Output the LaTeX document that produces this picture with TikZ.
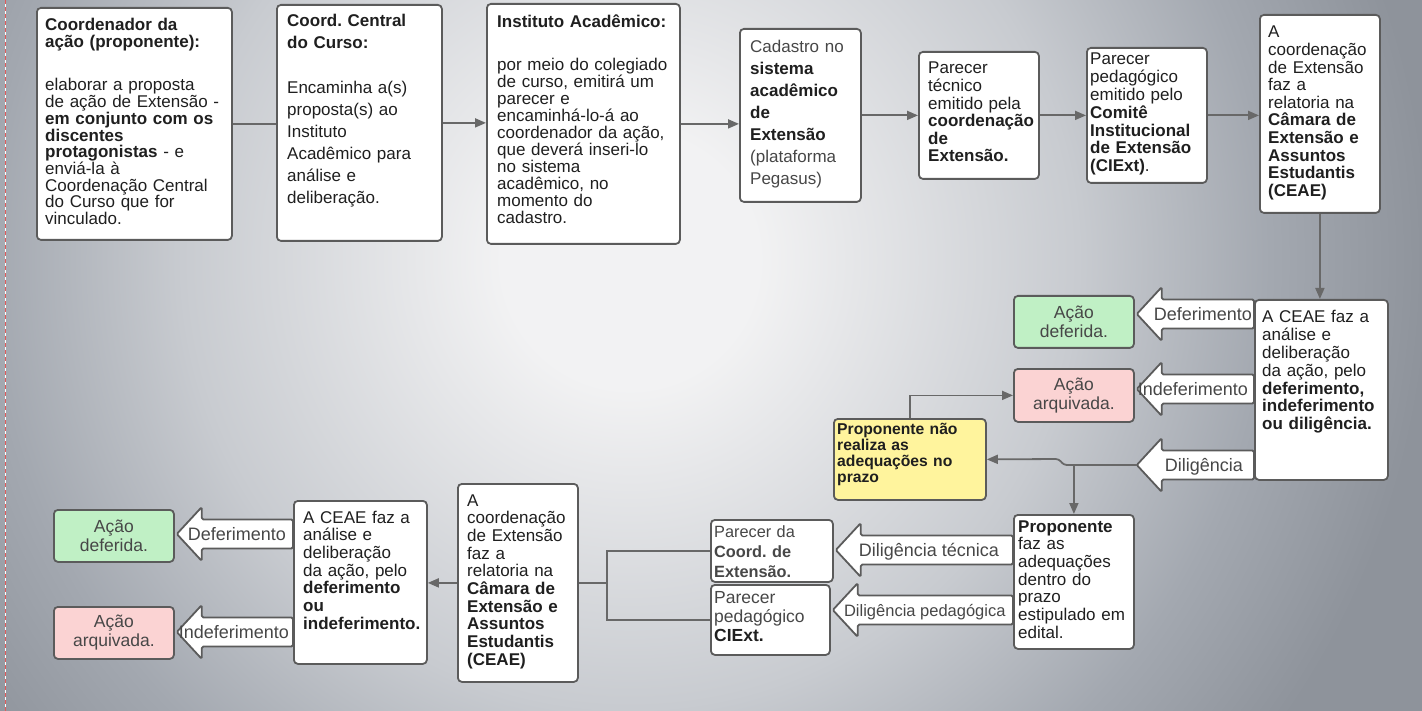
\documentclass[tikz,border=0pt]{standalone}
\usepackage{fontspec}
\setmainfont{Liberation Sans}
\usetikzlibrary{arrows.meta,calc}
\frenchspacing

\definecolor{bgmid}{HTML}{F2F2F3}
\definecolor{bgsoft}{HTML}{C8CBD0}
\definecolor{bgedge}{HTML}{A3A8B0}
\definecolor{bgfar}{HTML}{8E939B}
\definecolor{cardline}{HTML}{5B5B5B}
\definecolor{wire}{HTML}{686868}
\definecolor{ink}{HTML}{1F1F1F}
\definecolor{softink}{HTML}{474747}
\definecolor{okgreen}{HTML}{C0F0C5}
\definecolor{nopink}{HTML}{FBD3D3}
\definecolor{waityellow}{HTML}{FFF49D}
\definecolor{cutred}{HTML}{E05A5A}

\newcommand{\fsz}[2]{\fontsize{#1}{#2}\selectfont}

\pgfdeclareradialshading{backdrop}{\pgfpoint{0bp}{0bp}}{color(0bp)=(bgmid); color(4bp)=(bgmid); color(14bp)=(bgsoft); color(20bp)=(bgedge); color(25bp)=(bgfar); color(50bp)=(bgfar)}

\tikzset{
  card/.style={draw=cardline, fill=white, line width=1.8pt, rounded corners=4pt, anchor=north west, inner sep=0pt},
  words/.style={anchor=base west, text width=300pt, align=left, inner sep=0pt, text=ink},
  outcome/.style={draw=cardline, line width=1.8pt, rounded corners=4pt, anchor=north west, inner sep=0pt, align=center, text=softink, font=\fsz{17.5}{19}},
  flow/.style={draw=wire, line width=1.8pt, -{Triangle[length=11pt,width=9pt]}},
  link/.style={draw=wire, line width=1.8pt},
  fat/.style={draw=cardline, fill=white, line width=1.8pt, line join=round, rounded corners=1.5pt},
  fatlabel/.style={inner sep=0pt, text=softink, font=\fsz{18}{18}, text height=12.5pt, text depth=0pt}
}

\newcommand{\fatarrow}[6]{%
  \coordinate (#1-s) at (#2.west |- 0,#4);
  \coordinate (#1-t) at ($(#3.east |- 0,#4)+(2,0)$);
  \draw[fat] (#1-t) -- ++(25,-27) -- ++(0,12.5) -- ($(#1-s)+(0,-14.5)$)
    -- ++(0,29) -- ($(#1-t)+(25,14.5)$) -- ++(0,12.5) -- cycle;
  \node[fatlabel] (#1-l) at ($(#1-t)+(#5,0)$) {#6};}

\begin{document}
\begin{tikzpicture}[x=1pt, y=-1pt]
  \useasboundingbox (0,0) rectangle (1422,711);
  \begin{scope}
    \clip (0,0) rectangle (1422,711);
    \shade[shading=backdrop] (-170,-540) rectangle (1430,1060);
  \end{scope}
  \draw[white, line width=1.6pt] (5.5,0) -- (5.5,711);
  \draw[cutred, line width=1.6pt, dash pattern=on 4pt off 3pt] (5.5,0) -- (5.5,711);

  \node[card, minimum width=195pt, minimum height=232pt] (acao) at (36,7) {};
  \node[words, font=\fsz{17}{16.7}] (acao-t) at ([shift={(9,24)}]acao.north west)
    {\textbf{Coordenador da}\\ \textbf{ação (proponente):}\\[26.6pt]
     elaborar a proposta\\ de ação de Extensão -\\ \textbf{em conjunto com os}\\
     \textbf{discentes}\\ \textbf{protagonistas} - e\\ enviá-la à\\
     Coordenação Central\\ do Curso que for\\ vinculado.};

  \node[card, minimum width=165pt, minimum height=236pt] (central) at (276,4) {};
  \node[words, font=\fsz{17}{22}] (central-t) at ([shift={(11,22.7)}]central.north west)
    {\textbf{Coord. Central}\\ \textbf{do Curso:}\\[23.3pt]
     Encaminha a(s)\\ proposta(s) ao\\ Instituto\\ Acadêmico para\\ análise e\\ deliberação.};

  \node[card, minimum width=193pt, minimum height=240pt] (instituto) at (486,3) {};
  \node[words, font=\fsz{17}{16.9}] (instituto-t) at ([shift={(11,25)}]instituto.north west)
    {\textbf{Instituto Acadêmico:}\\[26.1pt]
     por meio do colegiado\\ de curso, emitirá um\\ parecer e\\ encaminhá-lo-á ao\\
     coordenador da ação,\\ que deverá inseri-lo\\ no sistema\\ acadêmico, no\\
     momento do\\ cadastro.};

  \node[card, minimum width=121pt, minimum height=173pt] (cadastro) at (739,28) {};
  \node[words, text=softink, font=\fsz{17}{22}] (cadastro-t) at ([shift={(11,25)}]cadastro.north west)
    {Cadastro no\\ {\bfseries\color{ink}sistema}\\ {\bfseries\color{ink}acadêmico}\\
     {\bfseries\color{ink}de}\\ {\bfseries\color{ink}Extensão}\\ (plataforma\\ Pegasus)};

  \node[card, minimum width=120pt, minimum height=127pt] (tecnico) at (918,51) {};
  \node[words, font=\fsz{17}{17.6}] (tecnico-t) at ([shift={(10,23)}]tecnico.north west)
    {Parecer\\ técnico\\ emitido pela\\ \textbf{coordenação}\\ \textbf{de}\\ \textbf{Extensão.}};

  \node[card, minimum width=120pt, minimum height=135pt] (comite) at (1086,47) {};
  \node[words, font=\fsz{17}{17.8}] (comite-t) at ([shift={(4,18)}]comite.north west)
    {Parecer\\ pedagógico\\ emitido pelo\\ \textbf{Comitê}\\ \textbf{Institucional}\\
     \textbf{de Extensão}\\ \textbf{(CIExt)}.};

  \node[card, minimum width=120pt, minimum height=198pt] (relatoria) at (1259,14) {};
  \node[words, font=\fsz{17}{17.6}] (relatoria-t) at ([shift={(9,24)}]relatoria.north west)
    {A\\ coordenação\\ de Extensão\\ faz a\\ relatoria na\\ \textbf{Câmara de}\\
     \textbf{Extensão e}\\ \textbf{Assuntos}\\ \textbf{Estudantis}\\ \textbf{(CEAE)}};

  \node[card, minimum width=133pt, minimum height=180pt] (ceae) at (1254,299) {};
  \node[words, font=\fsz{17}{17.8}] (ceae-t) at ([shift={(8,24)}]ceae.north west)
    {A CEAE faz a\\ análise e\\ deliberação\\ da ação, pelo\\ \textbf{deferimento,}\\
     \textbf{indeferimento}\\ \textbf{ou diligência.}};

  \node[outcome, fill=okgreen, minimum width=120pt, minimum height=52pt] (deferida) at (1013,295) {Ação\\ deferida.};
  \node[outcome, fill=nopink, minimum width=120pt, minimum height=53pt] (arquivada) at (1013,368) {Ação\\ arquivada.};

  \node[card, fill=waityellow, minimum width=152pt, minimum height=81pt] (semajuste) at (833,418) {};
  \node[words, font=\fsz{15.7}{16}\bfseries] (semajuste-t) at ([shift={(4,16.5)}]semajuste.north west)
    {Proponente não\\ realiza as\\ adequações no\\ prazo};

  \node[card, minimum width=120pt, minimum height=134pt] (ajuste) at (1013,514) {};
  \node[words, font=\fsz{17}{17.7}] (ajuste-t) at ([shift={(5,18)}]ajuste.north west)
    {\textbf{Proponente}\\ faz as\\ adequações\\ dentro do\\ prazo\\ estipulado em\\ edital.};

  \node[card, minimum width=122pt, minimum height=62pt] (parcoord) at (710,519) {};
  \node[words, text=softink, font=\fsz{16.3}{20}] (parcoord-t) at ([shift={(4,18)}]parcoord.north west)
    {Parecer da\\ \textbf{Coord. de}\\ \textbf{Extensão.}};

  \node[card, minimum width=119pt, minimum height=70pt] (parped) at (710,584) {};
  \node[words, text=softink, font=\fsz{17.5}{19}] (parped-t) at ([shift={(4,19)}]parped.north west)
    {Parecer\\ pedagógico\\ {\bfseries\color{ink}CIExt.}};

  \node[card, minimum width=120pt, minimum height=198pt] (relatoria2) at (457,483) {};
  \node[words, font=\fsz{17}{17.7}] (relatoria2-t) at ([shift={(10,23)}]relatoria2.north west)
    {A\\ coordenação\\ de Extensão\\ faz a\\ relatoria na\\ \textbf{Câmara de}\\
     \textbf{Extensão e}\\ \textbf{Assuntos}\\ \textbf{Estudantis}\\ \textbf{(CEAE)}};

  \node[card, minimum width=133pt, minimum height=163pt] (ceae2) at (293,500) {};
  \node[words, font=\fsz{17}{17.7}] (ceae2-t) at ([shift={(10,23)}]ceae2.north west)
    {A CEAE faz a\\ análise e\\ deliberação\\ da ação, pelo\\ \textbf{deferimento}\\
     \textbf{ou}\\ \textbf{indeferimento.}};

  \node[outcome, fill=okgreen, minimum width=120pt, minimum height=52pt] (deferida2) at (53,509) {Ação\\ deferida.};
  \node[outcome, fill=nopink, minimum width=120pt, minimum height=52pt] (arquivada2) at (53,606) {Ação\\ arquivada.};

  \draw[link] (acao.east) -- (acao.east -| central.west);
  \draw[flow] (central.east) -- (central.east -| instituto.west);
  \draw[flow] (instituto.east) -- (instituto.east -| cadastro.west);
  \draw[flow] (cadastro.east) -- (cadastro.east -| tecnico.west);
  \draw[flow] (tecnico.east) -- (tecnico.east -| comite.west);
  \draw[flow] (comite.east) -- (comite.east -| relatoria.west);
  \draw[flow] (relatoria.south) -- (relatoria.south |- ceae.north);

  \fatarrow{defer}{ceae}{deferida}{314}{66}{Deferimento}
  \fatarrow{indef}{ceae}{arquivada}{389}{56}{Indeferimento}
  \fatarrow{dilig}{ceae}{arquivada}{465}{67}{Diligência}

  \draw[flow] (semajuste.north) |- (arquivada.west);
  \draw[flow, rounded corners=3pt] (dilig-t) -- ++(-73,0) -- ++(-5,-6) -- (semajuste.east);
  \draw[flow] (dilig-t -| ajuste.north) -- (ajuste.north);

  \fatarrow{tecn}{ajuste}{parcoord}{550}{93}{Diligência técnica}
  \fatarrow{pedag}{ajuste}{parped}{610}{92}{\fsz{16.5}{16.5}Diligência pedagógica}

  \coordinate (fork) at (607,586);
  \draw[link] (parcoord.west) -| (fork) |- (parped.west);
  \draw[link] (relatoria2.east) -- (relatoria2.east -| fork);
  \draw[flow] (relatoria2.west) -- (relatoria2.west -| ceae2.east);

  \fatarrow{defer2}{ceae2}{deferida2}{534}{60}{Deferimento}
  \fatarrow{indef2}{ceae2}{arquivada2}{632}{57}{Indeferimento}
\end{tikzpicture}
\end{document}
